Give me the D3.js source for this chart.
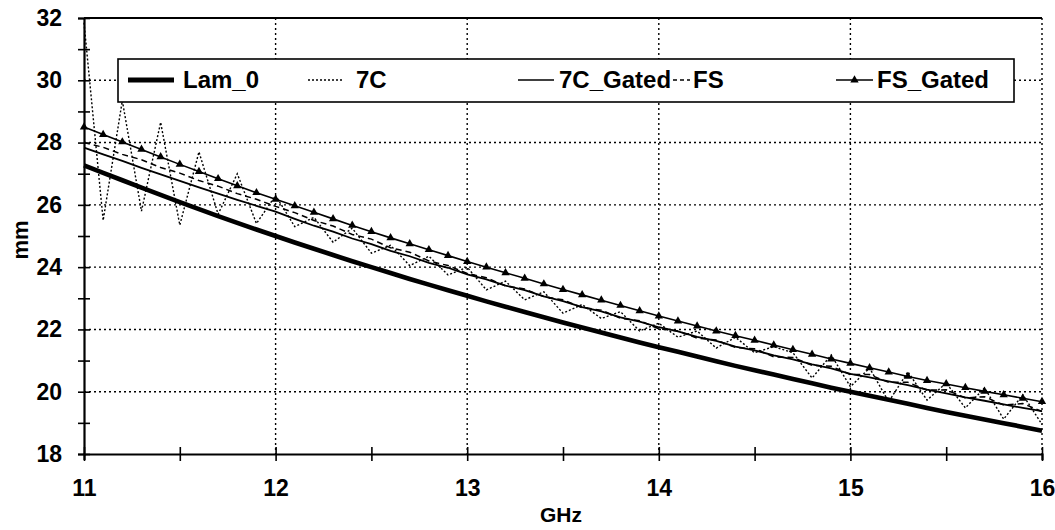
<!DOCTYPE html>
<html>
<head>
<meta charset="utf-8">
<script src="https://cdn.jsdelivr.net/npm/d3@7/dist/d3.min.js"></script>
<style>
  html, body { margin: 0; padding: 0; background: #fff; }
  svg { display: block; font-family: "Liberation Sans", Arial, sans-serif; }
</style>
</head>
<body>
<svg id="chart" width="1055" height="530"></svg>
<script>
// Frequency samples (GHz)
const freq = [11.0,11.1,11.2,11.3,11.4,11.5,11.6,11.7,11.8,11.9,
              12.0,12.1,12.2,12.3,12.4,12.5,12.6,12.7,12.8,12.9,
              13.0,13.1,13.2,13.3,13.4,13.5,13.6,13.7,13.8,13.9,
              14.0,14.1,14.2,14.3,14.4,14.5,14.6,14.7,14.8,14.9,
              15.0,15.1,15.2,15.3,15.4,15.5,15.6,15.7,15.8,15.9,16.0];

// Wavelength series (mm)
const lam0 = [27.27,27.03,26.79,26.55,26.32,26.09,25.86,25.64,25.42,25.21,
              25.00,24.79,24.59,24.39,24.19,24.00,23.81,23.62,23.44,23.26,
              23.08,22.90,22.73,22.56,22.39,22.22,22.06,21.90,21.74,21.58,
              21.43,21.28,21.13,20.98,20.83,20.69,20.55,20.41,20.27,20.13,
              20.00,19.87,19.74,19.61,19.48,19.35,19.23,19.11,18.99,18.87,18.75];

const c7 = [31.85,25.50,29.35,25.80,28.65,25.35,27.70,25.70,27.00,25.40,
            26.30,25.30,25.60,24.80,25.25,24.45,24.70,24.05,24.35,23.75,
            24.00,23.27,23.55,22.95,23.21,22.52,22.80,22.35,22.57,21.95,
            22.20,21.75,21.95,21.40,21.75,21.25,21.45,21.25,20.44,21.18,
            20.16,20.76,19.68,20.64,19.73,20.28,19.48,20.12,19.12,19.90,18.95];

const c7Gated = [27.84,27.62,27.41,27.19,26.98,26.77,26.56,26.36,26.16,25.97,
                 25.78,25.55,25.33,25.14,24.92,24.74,24.52,24.35,24.14,23.98,
                 23.77,23.61,23.41,23.26,23.06,22.91,22.72,22.58,22.39,22.25,
                 22.07,21.94,21.76,21.63,21.45,21.33,21.17,21.04,20.88,20.75,
                 20.57,20.46,20.33,20.21,20.07,19.95,19.82,19.71,19.59,19.48,19.38];

const fs = [28.00,27.85,27.62,27.45,27.20,27.02,26.78,26.60,26.36,26.18,
            25.95,25.75,25.50,25.32,25.05,24.90,24.62,24.48,24.20,24.05,
            23.80,23.66,23.40,23.30,23.05,22.95,22.70,22.62,22.36,22.28,
            22.02,21.95,21.72,21.66,21.42,21.38,21.12,21.10,20.85,20.82,
            20.55,20.55,20.30,20.30,20.05,20.06,19.80,19.84,19.57,19.62,19.36];

const fsGated = [28.50,28.26,28.02,27.78,27.54,27.30,27.07,26.84,26.61,26.39,
                 26.18,25.97,25.76,25.55,25.34,25.14,24.94,24.75,24.56,24.37,
                 24.18,24.00,23.82,23.64,23.46,23.28,23.11,22.94,22.77,22.60,
                 22.43,22.27,22.11,21.95,21.80,21.65,21.50,21.35,21.20,21.05,
                 20.91,20.77,20.63,20.49,20.36,20.25,20.13,20.01,19.90,19.79,19.68];

// Axis ticks
const xMajor = [11,12,13,14,15,16];
const xMinor = [11,11.5,12,12.5,13,13.5,14,14.5,15,15.5,16];
const yMajor = [18,20,22,24,26,28,30,32];
const yMinor = [18,19,20,21,22,23,24,25,26,27,28,29,30,31,32];

const seriesNames = ["Lam_0","7C","7C_Gated","FS","FS_Gated"];

const svg = d3.select("#chart");
const plotL = 84, plotR = 1042, plotT = 18, plotB = 454;

const x = d3.scaleLinear().domain([11,16]).range([plotL,plotR]);
const y = d3.scaleLinear().domain([18,32]).range([plotB,plotT]);

// Grid
const grid = svg.append("g").attr("stroke","#000").attr("stroke-width",1.4)
  .attr("stroke-dasharray","2,3");
grid.selectAll(".gy").data(yMajor.filter(v => v > 18 && v < 32)).join("line")
  .attr("x1",plotL).attr("x2",plotR).attr("y1",d=>y(d)).attr("y2",d=>y(d));
grid.selectAll(".gx").data(xMajor.filter(v => v > 11)).join("line")
  .attr("y1",plotT).attr("y2",plotB).attr("x1",d=>x(d)).attr("x2",d=>x(d));

// Top frame line
svg.append("line").attr("x1",plotL).attr("x2",plotR).attr("y1",plotT).attr("y2",plotT)
  .attr("stroke","#000").attr("stroke-width",1.8);

// Series
const lineGen = vals => d3.line().x((d,i)=>x(freq[i])).y(d=>y(d))(vals);

const plot = svg.append("g").attr("fill","none").attr("stroke","#000");
plot.append("path").attr("d",lineGen(c7)).attr("stroke-width",1.4).attr("stroke-dasharray","2,2");
plot.append("path").attr("d",lineGen(fs)).attr("stroke-width",1.5).attr("stroke-dasharray","6,4");
plot.append("path").attr("d",lineGen(c7Gated)).attr("stroke-width",1.8);
plot.append("path").attr("d",lineGen(fsGated)).attr("stroke-width",1.6);
plot.append("path").attr("d",lineGen(lam0)).attr("stroke-width",4.6);

const tri = d3.symbol().type(d3.symbolTriangle).size(30);
svg.append("g").selectAll("path").data(fsGated).join("path")
  .attr("d",tri)
  .attr("transform",(d,i)=>`translate(${x(freq[i])},${y(d)})`)
  .attr("fill","#000");

// Axes
const labelFont = "'Liberation Sans', Arial, sans-serif";
const yAxis = d3.axisLeft(y).tickValues(yMinor).tickSize(6)
  .tickFormat(d => yMajor.includes(d) ? d : "");
const gy = svg.append("g").attr("transform",`translate(${plotL},0)`).call(yAxis);
gy.select(".domain").attr("stroke-width",2.2);
gy.selectAll(".tick line").attr("x1",-6).attr("x2",6).attr("stroke-width",1.6);
gy.selectAll(".tick text").attr("x",-22)
  .attr("font-size",23).attr("font-weight","bold").attr("fill","#000")
  .attr("font-family",labelFont);

const xAxis = d3.axisBottom(x).tickValues(xMinor).tickSize(6)
  .tickFormat(d => xMajor.includes(d) ? d : "");
const gx = svg.append("g").attr("transform",`translate(0,${plotB})`).call(xAxis);
gx.select(".domain").attr("stroke-width",2.2);
gx.selectAll(".tick line").attr("y1",-7).attr("y2",7).attr("stroke-width",1.6);
gx.selectAll(".tick text").attr("y",26)
  .attr("font-size",23).attr("font-weight","bold").attr("fill","#000")
  .attr("font-family",labelFont);

// Axis titles
svg.append("text").attr("x",561).attr("y",522).attr("text-anchor","middle")
  .attr("font-size",21).attr("font-weight","bold").text("GHz");
svg.append("text").attr("transform","translate(28,240) rotate(-90)")
  .attr("text-anchor","middle").attr("font-size",22).attr("font-weight","bold").text("mm");

// Legend
const lg = svg.append("g");
lg.append("rect").attr("x",118).attr("y",59).attr("width",896).attr("height",43)
  .attr("fill","#fff").attr("stroke","#000").attr("stroke-width",1.6);
const legendItems = [
  {name: seriesNames[0], x1:128, x2:174, tx:183, w:4.8, dash:null, marker:false},
  {name: seriesNames[1], x1:308, x2:344, tx:356, w:1.4, dash:"2,2", marker:false},
  {name: seriesNames[2], x1:518, x2:554, tx:559, w:1.6, dash:null, marker:false},
  {name: seriesNames[3], x1:673, x2:690, tx:693, w:1.5, dash:"4,3", marker:false},
  {name: seriesNames[4], x1:836, x2:873, tx:877, w:1.5, dash:null, marker:true}
];
const ly = 80;
legendItems.forEach(it => {
  lg.append("line").attr("x1",it.x1).attr("x2",it.x2).attr("y1",ly).attr("y2",ly)
    .attr("stroke","#000").attr("stroke-width",it.w)
    .attr("stroke-dasharray",it.dash);
  if (it.marker) {
    lg.append("path").attr("d",tri)
      .attr("transform",`translate(${(it.x1+it.x2)/2},${ly})`).attr("fill","#000");
  }
  lg.append("text").attr("x",it.tx).attr("y",88).attr("font-size",24)
    .attr("font-weight","bold").text(it.name);
});
</script>
</body>
</html>
